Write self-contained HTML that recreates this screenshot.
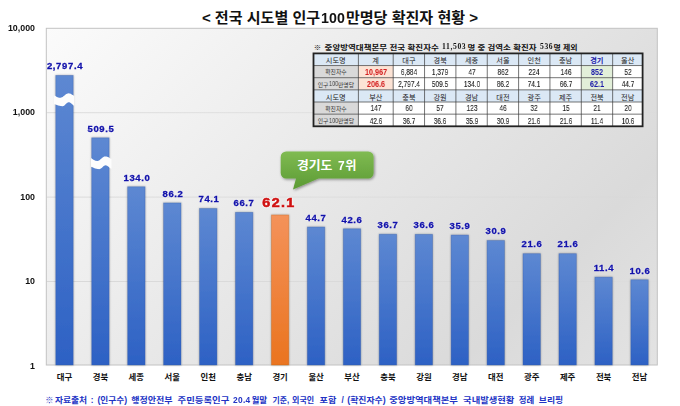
<!DOCTYPE html>
<html lang="ko"><head><meta charset="utf-8"><title>전국 시도별 인구100만명당 확진자 현황</title>
<style>
html,body{margin:0;padding:0;background:#fff}
#c{position:relative;width:680px;height:406px;overflow:hidden;background:#fff;font-family:"Liberation Sans",sans-serif}
#c svg{position:absolute;left:0;top:0}
.t{position:absolute;white-space:nowrap;height:12px;will-change:transform}
#c svg text{font-family:"Liberation Sans","Noto Sans CJK KR",sans-serif}
</style></head><body><div id="c">
<svg width="680" height="406" viewBox="0 0 680 406">
<defs>
<linearGradient id="pg" gradientUnits="userSpaceOnUse" x1="46" y1="28" x2="520" y2="502"><stop offset="0" stop-color="#fbfbfb"/><stop offset="0.79" stop-color="#dadada"/><stop offset="1" stop-color="#e3e3e3"/></linearGradient>
<linearGradient id="gl" gradientUnits="userSpaceOnUse" x1="46" y1="0" x2="657" y2="0"><stop offset="0" stop-color="#c4c4c4" stop-opacity="0.6"/><stop offset="0.5" stop-color="#c4c4c4" stop-opacity="0.3"/><stop offset="1" stop-color="#c4c4c4" stop-opacity="0.05"/></linearGradient>
<linearGradient id="bb" x1="0" y1="0" x2="0" y2="1"><stop offset="0" stop-color="#5d88d2"/><stop offset="1" stop-color="#2d61c4"/></linearGradient>
<linearGradient id="bo" x1="0" y1="0" x2="0" y2="1"><stop offset="0" stop-color="#f4925a"/><stop offset="1" stop-color="#ea741f"/></linearGradient>
<linearGradient id="cg" x1="0" y1="0" x2="0" y2="1"><stop offset="0" stop-color="#80bb52"/><stop offset="1" stop-color="#5b9a33"/></linearGradient>
<filter id="sh" x="-30%" y="-5%" width="160%" height="110%"><feGaussianBlur in="SourceAlpha" stdDeviation="0.9"/><feOffset dx="0.3" dy="0.3"/><feComponentTransfer><feFuncA type="linear" slope="0.35"/></feComponentTransfer><feMerge><feMergeNode/><feMergeNode in="SourceGraphic"/></feMerge></filter>
<filter id="sh2" x="-10%" y="-20%" width="120%" height="150%"><feGaussianBlur in="SourceAlpha" stdDeviation="1.4"/><feOffset dx="0.5" dy="1.2"/><feComponentTransfer><feFuncA type="linear" slope="0.45"/></feComponentTransfer><feMerge><feMergeNode/><feMergeNode in="SourceGraphic"/></feMerge></filter>
</defs>
<rect x="46.3" y="28.3" width="611" height="336.7" fill="url(#pg)" stroke="#c2c2c2" stroke-width="1"/>
<line x1="46.8" x2="656.8" y1="281.5" y2="281.5" stroke="url(#gl)" stroke-width="0.9"/>
<line x1="46.8" x2="656.8" y1="197.1" y2="197.1" stroke="url(#gl)" stroke-width="0.9"/>
<line x1="46.8" x2="656.8" y1="112.7" y2="112.7" stroke="url(#gl)" stroke-width="0.9"/>
<g filter="url(#sh)">
<rect x="55.77" y="75.39" width="17.4" height="289.61" fill="url(#bb)" stroke="#3558a0" stroke-width="0.8" stroke-opacity="0.4"/>
<rect x="91.71" y="137.82" width="17.4" height="227.18" fill="url(#bb)" stroke="#3558a0" stroke-width="0.8" stroke-opacity="0.4"/>
<rect x="127.65" y="186.77" width="17.4" height="178.23" fill="url(#bb)" stroke="#3558a0" stroke-width="0.8" stroke-opacity="0.4"/>
<rect x="163.59" y="202.94" width="17.4" height="162.06" fill="url(#bb)" stroke="#3558a0" stroke-width="0.8" stroke-opacity="0.4"/>
<rect x="199.54" y="208.49" width="17.4" height="156.51" fill="url(#bb)" stroke="#3558a0" stroke-width="0.8" stroke-opacity="0.4"/>
<rect x="235.48" y="212.34" width="17.4" height="152.66" fill="url(#bb)" stroke="#3558a0" stroke-width="0.8" stroke-opacity="0.4"/>
<rect x="271.42" y="214.96" width="17.4" height="150.04" fill="url(#bo)" stroke="#b8621f" stroke-width="0.8" stroke-opacity="0.4"/>
<rect x="307.36" y="227.01" width="17.4" height="137.99" fill="url(#bb)" stroke="#3558a0" stroke-width="0.8" stroke-opacity="0.4"/>
<rect x="343.3" y="228.78" width="17.4" height="136.22" fill="url(#bb)" stroke="#3558a0" stroke-width="0.8" stroke-opacity="0.4"/>
<rect x="379.24" y="234.24" width="17.4" height="130.76" fill="url(#bb)" stroke="#3558a0" stroke-width="0.8" stroke-opacity="0.4"/>
<rect x="415.18" y="234.34" width="17.4" height="130.66" fill="url(#bb)" stroke="#3558a0" stroke-width="0.8" stroke-opacity="0.4"/>
<rect x="451.12" y="235.05" width="17.4" height="129.95" fill="url(#bb)" stroke="#3558a0" stroke-width="0.8" stroke-opacity="0.4"/>
<rect x="487.06" y="240.55" width="17.4" height="124.45" fill="url(#bb)" stroke="#3558a0" stroke-width="0.8" stroke-opacity="0.4"/>
<rect x="523.01" y="253.67" width="17.4" height="111.33" fill="url(#bb)" stroke="#3558a0" stroke-width="0.8" stroke-opacity="0.4"/>
<rect x="558.95" y="253.67" width="17.4" height="111.33" fill="url(#bb)" stroke="#3558a0" stroke-width="0.8" stroke-opacity="0.4"/>
<rect x="594.89" y="277.1" width="17.4" height="87.9" fill="url(#bb)" stroke="#3558a0" stroke-width="0.8" stroke-opacity="0.4"/>
<rect x="630.83" y="279.76" width="17.4" height="85.24" fill="url(#bb)" stroke="#3558a0" stroke-width="0.8" stroke-opacity="0.4"/>
</g>
<path d="M54 95.26L54.72 95.69L55.45 96.12L56.17 96.52L56.89 96.89L57.62 97.2L58.34 97.45L59.06 97.63L59.79 97.73L60.51 97.74L61.23 97.6L61.96 97.31L62.68 96.88L63.4 96.35L64.12 95.76L64.85 95.16L65.57 94.58L66.29 94.08L67.02 93.69L67.74 93.44L68.46 93.35L69.19 93.4L69.91 93.57L70.63 93.84L71.36 94.2L72.08 94.63L72.8 95.1L73.53 95.6L74.25 96.1L74.25 105.87L73.53 105.42L72.8 104.83L72.08 104.15L71.36 103.48L70.63 102.88L69.91 102.43L69.19 102.19L68.46 102.18L67.74 102.43L67.02 102.93L66.29 103.59L65.57 104.33L64.85 105.04L64.12 105.64L63.4 106.02L62.68 106.15L61.96 106.13L61.23 106.07L60.51 105.97L59.79 105.84L59.06 105.68L58.34 105.49L57.62 105.27L56.89 105.03L56.17 104.77L55.45 104.5L54.72 104.23L54 103.95Z" fill="#fdfdfd"/>
<path d="M90.95 158.03L91.68 158.53L92.42 159.03L93.15 159.51L93.89 159.96L94.62 160.35L95.35 160.66L96.09 160.87L96.82 160.98L97.56 160.98L98.29 160.79L99.02 160.43L99.76 159.93L100.49 159.32L101.22 158.65L101.96 157.99L102.69 157.4L103.43 156.91L104.16 156.57L104.89 156.41L105.63 156.42L106.36 156.53L107.1 156.73L107.83 157.01L108.56 157.35L109.3 157.75L110.03 158.19L110.77 158.65L111.5 159.11L111.5 168.88L110.77 168.51L110.03 168.02L109.3 167.45L108.56 166.86L107.83 166.31L107.1 165.85L106.36 165.53L105.63 165.36L104.89 165.4L104.16 165.7L103.43 166.23L102.69 166.91L101.96 167.64L101.22 168.32L100.49 168.83L99.76 169.11L99.02 169.14L98.29 169.1L97.56 169L96.82 168.85L96.09 168.67L95.35 168.45L94.62 168.19L93.89 167.91L93.15 167.61L92.42 167.31L91.68 167L90.95 166.7Z" fill="#fdfdfd"/>
<g font-size="8.4" font-weight="bold" fill="#111" text-anchor="middle">
<text x="64.5" y="380.3">대구</text>
<text x="100.4" y="380.3">경북</text>
<text x="136.3" y="380.3">세종</text>
<text x="172.3" y="380.3">서울</text>
<text x="208.2" y="380.3">인천</text>
<text x="244.2" y="380.3">충남</text>
<text x="280.1" y="380.3">경기</text>
<text x="316.1" y="380.3">울산</text>
<text x="352" y="380.3">부산</text>
<text x="387.9" y="380.3">충북</text>
<text x="423.9" y="380.3">강원</text>
<text x="459.8" y="380.3">경남</text>
<text x="495.8" y="380.3">대전</text>
<text x="531.7" y="380.3">광주</text>
<text x="567.6" y="380.3">제주</text>
<text x="603.6" y="380.3">전북</text>
<text x="639.5" y="380.3">전남</text>
</g>
<text x="201.9" y="22.9" font-size="15" font-weight="bold" fill="#111" textLength="118.3" lengthAdjust="spacingAndGlyphs">&lt; 전국 시도별 인구</text>
<text x="345.9" y="22.9" font-size="15" font-weight="bold" fill="#111" textLength="132.2" lengthAdjust="spacingAndGlyphs">만명당 확진자 현황 &gt;</text>
<rect x="313.5" y="53.4" width="329.1" height="72.9" fill="#fff"/>
<rect x="313.5" y="53.4" width="329.1" height="12.15" fill="#dbe8f5"/>
<rect x="313.5" y="65.55" width="44.9" height="12.15" fill="#d9d9d9"/>
<rect x="358.4" y="65.55" width="34.8" height="12.15" fill="#fce3d5"/>
<rect x="581.3" y="65.55" width="31.35" height="12.15" fill="#e2efd9"/>
<rect x="313.5" y="77.7" width="44.9" height="12.15" fill="#d9d9d9"/>
<rect x="358.4" y="77.7" width="34.8" height="12.15" fill="#fce3d5"/>
<rect x="581.3" y="77.7" width="31.35" height="12.15" fill="#e2efd9"/>
<rect x="313.5" y="89.85" width="329.1" height="12.15" fill="#dbe8f5"/>
<rect x="313.5" y="102" width="44.9" height="12.15" fill="#d9d9d9"/>
<rect x="313.5" y="114.15" width="44.9" height="12.15" fill="#d9d9d9"/>
<path d="M313.5 65.55H642.6M313.5 77.7H642.6M313.5 89.85H642.6M313.5 102H642.6M313.5 114.15H642.6M358.4 53.4V126.3M393.2 53.4V126.3M424.55 53.4V126.3M455.9 53.4V126.3M487.25 53.4V126.3M518.6 53.4V126.3M549.95 53.4V126.3M581.3 53.4V126.3M612.65 53.4V126.3" stroke="#3a3a3a" stroke-width="0.7" fill="none"/>
<rect x="313.5" y="53.4" width="329.1" height="72.9" fill="none" stroke="#222" stroke-width="1.8"/>
<g font-size="7.2" fill="#222" text-anchor="middle">
<text x="335.7" y="63.2">시도명</text>
<text x="375.6" y="63.2">계</text>
<text x="408.9" y="63.2">대구</text>
<text x="440.2" y="63.2">경북</text>
<text x="471.5" y="63.2">세종</text>
<text x="502.9" y="63.2">서울</text>
<text x="534.2" y="63.2">인천</text>
<text x="565.6" y="63.2">충남</text>
<text x="596.8" y="63.2" font-weight="bold" fill="#1a1aa8">경기</text>
<text x="627.7" y="63.2">울산</text>
<text x="335.7" y="99.7">시도명</text>
<text x="375.8" y="99.7">부산</text>
<text x="408.9" y="99.7">충북</text>
<text x="440.1" y="99.7">강원</text>
<text x="471.6" y="99.7">경남</text>
<text x="502.9" y="99.7">대전</text>
<text x="534.2" y="99.7">광주</text>
<text x="565.6" y="99.7">제주</text>
<text x="597" y="99.7">전북</text>
<text x="627.7" y="99.7">전남</text>
</g>
<g font-size="5.8" fill="#333">
<text x="335.9" y="74.4" text-anchor="middle">확진자수</text>
<text x="317.7" y="86.7">인구</text>
<text x="338" y="86.7">만명당</text>
<text x="335.9" y="110.9" text-anchor="middle">확진자수</text>
<text x="317.7" y="123.1">인구</text>
<text x="338" y="123.1">만명당</text>
</g>
<g font-size="7.4" font-weight="bold" fill="#111">
<text x="313.8" y="49.6">※</text>
<text x="324.6" y="49.6" textLength="114.2" lengthAdjust="spacingAndGlyphs">중앙방역대책본부 전국 확진자수</text>
<text x="467.4" y="49.6" textLength="69.1" lengthAdjust="spacingAndGlyphs">명 중 검역소 확진자</text>
<text x="553.6" y="49.6" textLength="24" lengthAdjust="spacingAndGlyphs">명 제외</text>
</g>
<path d="M286.2 151.4H368.1A5.5 5.5 0 0 1 373.6 156.9V173A5.5 5.5 0 0 1 368.1 178.5H318.5L293 189.6L296 178.5H286.2A5.5 5.5 0 0 1 280.7 173V156.9A5.5 5.5 0 0 1 286.2 151.4Z" fill="url(#cg)" filter="url(#sh2)"/>
<text x="296.9" y="170.1" font-size="12.2" font-weight="bold" fill="#fff" textLength="35.5" lengthAdjust="spacingAndGlyphs">경기도</text>
<text x="345.2" y="170.1" font-size="12.2" font-weight="bold" fill="#fff">위</text>
<g font-size="8.2" font-weight="bold" fill="#2233c4">
<text x="45.3" y="403.4">※</text>
<text x="54.9" y="403.4" textLength="32.3" lengthAdjust="spacingAndGlyphs">자료출처</text>
<text x="90.8" y="403.4">:</text>
<text x="97.4" y="403.4" textLength="29.7" lengthAdjust="spacingAndGlyphs">(인구수)</text>
<text x="131.3" y="403.4" textLength="41.3" lengthAdjust="spacingAndGlyphs">행정안전부</text>
<text x="177.6" y="403.4" textLength="51.7" lengthAdjust="spacingAndGlyphs">주민등록인구</text>
<text x="251.4" y="403.4" textLength="15.8" lengthAdjust="spacingAndGlyphs">월말</text>
<text x="272.6" y="403.4" textLength="16.7" lengthAdjust="spacingAndGlyphs">기준,</text>
<text x="292.1" y="403.4" textLength="22.1" lengthAdjust="spacingAndGlyphs">외국인</text>
<text x="319.6" y="403.4" textLength="16.8" lengthAdjust="spacingAndGlyphs">포함</text>
<text x="341.4" y="403.4">/</text>
<text x="347.2" y="403.4" textLength="38.4" lengthAdjust="spacingAndGlyphs">(확진자수)</text>
<text x="389.3" y="403.4" textLength="68.6" lengthAdjust="spacingAndGlyphs">중앙방역대책본부</text>
<text x="463.1" y="403.4" textLength="51.3" lengthAdjust="spacingAndGlyphs">국내발생현황</text>
<text x="518.8" y="403.4" textLength="15.4" lengthAdjust="spacingAndGlyphs">정례</text>
<text x="538.8" y="403.4" textLength="24.3" lengthAdjust="spacingAndGlyphs">브리핑</text>
</g>
</svg>
<div class="t" style="left:-45px;top:360.56px;width:80px;text-align:right;font:bold 8.2px/12px 'Liberation Sans',sans-serif;color:#111;transform:scaleX(1.08);transform-origin:right center;">1</div>
<div class="t" style="left:-45px;top:276.16px;width:80px;text-align:right;font:bold 8.2px/12px 'Liberation Sans',sans-serif;color:#111;transform:scaleX(1.08);transform-origin:right center;">10</div>
<div class="t" style="left:-45px;top:191.76px;width:80px;text-align:right;font:bold 8.2px/12px 'Liberation Sans',sans-serif;color:#111;transform:scaleX(1.08);transform-origin:right center;">100</div>
<div class="t" style="left:-45px;top:107.36px;width:80px;text-align:right;font:bold 8.2px/12px 'Liberation Sans',sans-serif;color:#111;transform:scaleX(1.08);transform-origin:right center;">1,000</div>
<div class="t" style="left:-45px;top:22.96px;width:80px;text-align:right;font:bold 8.2px/12px 'Liberation Sans',sans-serif;color:#111;transform:scaleX(1.08);transform-origin:right center;">10,000</div>
<div class="t" style="left:24.77px;top:60.14px;width:80px;text-align:center;font:bold 8.8px/12px 'Liberation Sans',sans-serif;color:#1212aa;transform:scaleX(1.08);transform-origin:center center;letter-spacing:0.6px;-webkit-text-stroke:0.3px #1212aa;text-shadow:0 0 1px #fff,0 0 1.5px #fff;">2,797.4</div>
<div class="t" style="left:60.71px;top:122.57px;width:80px;text-align:center;font:bold 8.8px/12px 'Liberation Sans',sans-serif;color:#1212aa;transform:scaleX(1.08);transform-origin:center center;letter-spacing:0.6px;-webkit-text-stroke:0.3px #1212aa;text-shadow:0 0 1px #fff,0 0 1.5px #fff;">509.5</div>
<div class="t" style="left:96.65px;top:171.52px;width:80px;text-align:center;font:bold 8.8px/12px 'Liberation Sans',sans-serif;color:#1212aa;transform:scaleX(1.08);transform-origin:center center;letter-spacing:0.6px;-webkit-text-stroke:0.3px #1212aa;text-shadow:0 0 1px #fff,0 0 1.5px #fff;">134.0</div>
<div class="t" style="left:132.59px;top:187.69px;width:80px;text-align:center;font:bold 8.8px/12px 'Liberation Sans',sans-serif;color:#1212aa;transform:scaleX(1.08);transform-origin:center center;letter-spacing:0.6px;-webkit-text-stroke:0.3px #1212aa;text-shadow:0 0 1px #fff,0 0 1.5px #fff;">86.2</div>
<div class="t" style="left:168.54px;top:193.24px;width:80px;text-align:center;font:bold 8.8px/12px 'Liberation Sans',sans-serif;color:#1212aa;transform:scaleX(1.08);transform-origin:center center;letter-spacing:0.6px;-webkit-text-stroke:0.3px #1212aa;text-shadow:0 0 1px #fff,0 0 1.5px #fff;">74.1</div>
<div class="t" style="left:204.48px;top:197.09px;width:80px;text-align:center;font:bold 8.8px/12px 'Liberation Sans',sans-serif;color:#1212aa;transform:scaleX(1.08);transform-origin:center center;letter-spacing:0.6px;-webkit-text-stroke:0.3px #1212aa;text-shadow:0 0 1px #fff,0 0 1.5px #fff;">66.7</div>
<div class="t" style="left:238.52px;top:196.93px;width:80px;text-align:center;font:bold 12.8px/12px 'Liberation Sans',sans-serif;color:#cf1010;transform:scaleX(1.12);transform-origin:center center;letter-spacing:1.2px;-webkit-text-stroke:0.55px #cf1010;text-shadow:0 0 1.2px #fff,0 0 1.2px #fff,0 0 2px #fff,0 0 2px #fff;">62.1</div>
<div class="t" style="left:276.36px;top:211.76px;width:80px;text-align:center;font:bold 8.8px/12px 'Liberation Sans',sans-serif;color:#1212aa;transform:scaleX(1.08);transform-origin:center center;letter-spacing:0.6px;-webkit-text-stroke:0.3px #1212aa;text-shadow:0 0 1px #fff,0 0 1.5px #fff;">44.7</div>
<div class="t" style="left:312.3px;top:213.53px;width:80px;text-align:center;font:bold 8.8px/12px 'Liberation Sans',sans-serif;color:#1212aa;transform:scaleX(1.08);transform-origin:center center;letter-spacing:0.6px;-webkit-text-stroke:0.3px #1212aa;text-shadow:0 0 1px #fff,0 0 1.5px #fff;">42.6</div>
<div class="t" style="left:348.24px;top:218.99px;width:80px;text-align:center;font:bold 8.8px/12px 'Liberation Sans',sans-serif;color:#1212aa;transform:scaleX(1.08);transform-origin:center center;letter-spacing:0.6px;-webkit-text-stroke:0.3px #1212aa;text-shadow:0 0 1px #fff,0 0 1.5px #fff;">36.7</div>
<div class="t" style="left:384.18px;top:219.09px;width:80px;text-align:center;font:bold 8.8px/12px 'Liberation Sans',sans-serif;color:#1212aa;transform:scaleX(1.08);transform-origin:center center;letter-spacing:0.6px;-webkit-text-stroke:0.3px #1212aa;text-shadow:0 0 1px #fff,0 0 1.5px #fff;">36.6</div>
<div class="t" style="left:420.12px;top:219.8px;width:80px;text-align:center;font:bold 8.8px/12px 'Liberation Sans',sans-serif;color:#1212aa;transform:scaleX(1.08);transform-origin:center center;letter-spacing:0.6px;-webkit-text-stroke:0.3px #1212aa;text-shadow:0 0 1px #fff,0 0 1.5px #fff;">35.9</div>
<div class="t" style="left:456.06px;top:225.3px;width:80px;text-align:center;font:bold 8.8px/12px 'Liberation Sans',sans-serif;color:#1212aa;transform:scaleX(1.08);transform-origin:center center;letter-spacing:0.6px;-webkit-text-stroke:0.3px #1212aa;text-shadow:0 0 1px #fff,0 0 1.5px #fff;">30.9</div>
<div class="t" style="left:492.01px;top:238.42px;width:80px;text-align:center;font:bold 8.8px/12px 'Liberation Sans',sans-serif;color:#1212aa;transform:scaleX(1.08);transform-origin:center center;letter-spacing:0.6px;-webkit-text-stroke:0.3px #1212aa;text-shadow:0 0 1px #fff,0 0 1.5px #fff;">21.6</div>
<div class="t" style="left:527.95px;top:238.42px;width:80px;text-align:center;font:bold 8.8px/12px 'Liberation Sans',sans-serif;color:#1212aa;transform:scaleX(1.08);transform-origin:center center;letter-spacing:0.6px;-webkit-text-stroke:0.3px #1212aa;text-shadow:0 0 1px #fff,0 0 1.5px #fff;">21.6</div>
<div class="t" style="left:563.89px;top:261.85px;width:80px;text-align:center;font:bold 8.8px/12px 'Liberation Sans',sans-serif;color:#1212aa;transform:scaleX(1.08);transform-origin:center center;letter-spacing:0.6px;-webkit-text-stroke:0.3px #1212aa;text-shadow:0 0 1px #fff,0 0 1.5px #fff;">11.4</div>
<div class="t" style="left:599.83px;top:264.51px;width:80px;text-align:center;font:bold 8.8px/12px 'Liberation Sans',sans-serif;color:#1212aa;transform:scaleX(1.08);transform-origin:center center;letter-spacing:0.6px;-webkit-text-stroke:0.3px #1212aa;text-shadow:0 0 1px #fff,0 0 1.5px #fff;">10.6</div>
<div class="t" style="left:320.91px;top:12.08px;width:53.94px;text-align:left;font:bold 14.2px/12px 'Liberation Sans',sans-serif;color:#111;letter-spacing:0.08px;">100</div>
<div class="t" style="left:345.8px;top:66.06px;width:60px;text-align:center;font:bold 9.5px/12px 'Liberation Sans',sans-serif;color:#d42020;transform:scaleX(0.76);transform-origin:center center;">10,967</div>
<div class="t" style="left:378.88px;top:66.02px;width:60px;text-align:center;font:normal 9.6px/12px 'Liberation Sans',sans-serif;color:#1a1a1a;transform:scaleX(0.68);transform-origin:center center;-webkit-text-stroke:0.12px #1a1a1a;">6,884</div>
<div class="t" style="left:410.23px;top:66.02px;width:60px;text-align:center;font:normal 9.6px/12px 'Liberation Sans',sans-serif;color:#1a1a1a;transform:scaleX(0.68);transform-origin:center center;-webkit-text-stroke:0.12px #1a1a1a;">1,379</div>
<div class="t" style="left:441.57px;top:66.02px;width:60px;text-align:center;font:normal 9.6px/12px 'Liberation Sans',sans-serif;color:#1a1a1a;transform:scaleX(0.68);transform-origin:center center;-webkit-text-stroke:0.12px #1a1a1a;">47</div>
<div class="t" style="left:472.93px;top:66.02px;width:60px;text-align:center;font:normal 9.6px/12px 'Liberation Sans',sans-serif;color:#1a1a1a;transform:scaleX(0.68);transform-origin:center center;-webkit-text-stroke:0.12px #1a1a1a;">862</div>
<div class="t" style="left:504.28px;top:66.02px;width:60px;text-align:center;font:normal 9.6px/12px 'Liberation Sans',sans-serif;color:#1a1a1a;transform:scaleX(0.68);transform-origin:center center;-webkit-text-stroke:0.12px #1a1a1a;">224</div>
<div class="t" style="left:535.62px;top:66.02px;width:60px;text-align:center;font:normal 9.6px/12px 'Liberation Sans',sans-serif;color:#1a1a1a;transform:scaleX(0.68);transform-origin:center center;-webkit-text-stroke:0.12px #1a1a1a;">146</div>
<div class="t" style="left:566.97px;top:66.06px;width:60px;text-align:center;font:bold 9.5px/12px 'Liberation Sans',sans-serif;color:#1a1aa8;transform:scaleX(0.76);transform-origin:center center;">852</div>
<div class="t" style="left:597.62px;top:66.02px;width:60px;text-align:center;font:normal 9.6px/12px 'Liberation Sans',sans-serif;color:#1a1a1a;transform:scaleX(0.68);transform-origin:center center;-webkit-text-stroke:0.12px #1a1a1a;">52</div>
<div class="t" style="left:328.62px;top:78.07px;width:40px;text-align:left;font:normal 7.6px/12px 'Liberation Sans',sans-serif;color:#333;transform:scaleX(0.72);transform-origin:left center;">100</div>
<div class="t" style="left:345.8px;top:78.21px;width:60px;text-align:center;font:bold 9.5px/12px 'Liberation Sans',sans-serif;color:#d42020;transform:scaleX(0.76);transform-origin:center center;">206.6</div>
<div class="t" style="left:378.88px;top:78.17px;width:60px;text-align:center;font:normal 9.6px/12px 'Liberation Sans',sans-serif;color:#1a1a1a;transform:scaleX(0.68);transform-origin:center center;-webkit-text-stroke:0.12px #1a1a1a;">2,797.4</div>
<div class="t" style="left:410.23px;top:78.17px;width:60px;text-align:center;font:normal 9.6px/12px 'Liberation Sans',sans-serif;color:#1a1a1a;transform:scaleX(0.68);transform-origin:center center;-webkit-text-stroke:0.12px #1a1a1a;">509.5</div>
<div class="t" style="left:441.57px;top:78.17px;width:60px;text-align:center;font:normal 9.6px/12px 'Liberation Sans',sans-serif;color:#1a1a1a;transform:scaleX(0.68);transform-origin:center center;-webkit-text-stroke:0.12px #1a1a1a;">134.0</div>
<div class="t" style="left:472.93px;top:78.17px;width:60px;text-align:center;font:normal 9.6px/12px 'Liberation Sans',sans-serif;color:#1a1a1a;transform:scaleX(0.68);transform-origin:center center;-webkit-text-stroke:0.12px #1a1a1a;">86.2</div>
<div class="t" style="left:504.28px;top:78.17px;width:60px;text-align:center;font:normal 9.6px/12px 'Liberation Sans',sans-serif;color:#1a1a1a;transform:scaleX(0.68);transform-origin:center center;-webkit-text-stroke:0.12px #1a1a1a;">74.1</div>
<div class="t" style="left:535.62px;top:78.17px;width:60px;text-align:center;font:normal 9.6px/12px 'Liberation Sans',sans-serif;color:#1a1a1a;transform:scaleX(0.68);transform-origin:center center;-webkit-text-stroke:0.12px #1a1a1a;">66.7</div>
<div class="t" style="left:566.97px;top:78.21px;width:60px;text-align:center;font:bold 9.5px/12px 'Liberation Sans',sans-serif;color:#1a1aa8;transform:scaleX(0.76);transform-origin:center center;">62.1</div>
<div class="t" style="left:597.62px;top:78.17px;width:60px;text-align:center;font:normal 9.6px/12px 'Liberation Sans',sans-serif;color:#1a1a1a;transform:scaleX(0.68);transform-origin:center center;-webkit-text-stroke:0.12px #1a1a1a;">44.7</div>
<div class="t" style="left:345.8px;top:102.47px;width:60px;text-align:center;font:normal 9.6px/12px 'Liberation Sans',sans-serif;color:#1a1a1a;transform:scaleX(0.68);transform-origin:center center;-webkit-text-stroke:0.12px #1a1a1a;">147</div>
<div class="t" style="left:378.88px;top:102.47px;width:60px;text-align:center;font:normal 9.6px/12px 'Liberation Sans',sans-serif;color:#1a1a1a;transform:scaleX(0.68);transform-origin:center center;-webkit-text-stroke:0.12px #1a1a1a;">60</div>
<div class="t" style="left:410.23px;top:102.47px;width:60px;text-align:center;font:normal 9.6px/12px 'Liberation Sans',sans-serif;color:#1a1a1a;transform:scaleX(0.68);transform-origin:center center;-webkit-text-stroke:0.12px #1a1a1a;">57</div>
<div class="t" style="left:441.57px;top:102.47px;width:60px;text-align:center;font:normal 9.6px/12px 'Liberation Sans',sans-serif;color:#1a1a1a;transform:scaleX(0.68);transform-origin:center center;-webkit-text-stroke:0.12px #1a1a1a;">123</div>
<div class="t" style="left:472.93px;top:102.47px;width:60px;text-align:center;font:normal 9.6px/12px 'Liberation Sans',sans-serif;color:#1a1a1a;transform:scaleX(0.68);transform-origin:center center;-webkit-text-stroke:0.12px #1a1a1a;">46</div>
<div class="t" style="left:504.28px;top:102.47px;width:60px;text-align:center;font:normal 9.6px/12px 'Liberation Sans',sans-serif;color:#1a1a1a;transform:scaleX(0.68);transform-origin:center center;-webkit-text-stroke:0.12px #1a1a1a;">32</div>
<div class="t" style="left:535.62px;top:102.47px;width:60px;text-align:center;font:normal 9.6px/12px 'Liberation Sans',sans-serif;color:#1a1a1a;transform:scaleX(0.68);transform-origin:center center;-webkit-text-stroke:0.12px #1a1a1a;">15</div>
<div class="t" style="left:566.97px;top:102.47px;width:60px;text-align:center;font:normal 9.6px/12px 'Liberation Sans',sans-serif;color:#1a1a1a;transform:scaleX(0.68);transform-origin:center center;-webkit-text-stroke:0.12px #1a1a1a;">21</div>
<div class="t" style="left:597.62px;top:102.47px;width:60px;text-align:center;font:normal 9.6px/12px 'Liberation Sans',sans-serif;color:#1a1a1a;transform:scaleX(0.68);transform-origin:center center;-webkit-text-stroke:0.12px #1a1a1a;">20</div>
<div class="t" style="left:328.62px;top:114.52px;width:40px;text-align:left;font:normal 7.6px/12px 'Liberation Sans',sans-serif;color:#333;transform:scaleX(0.72);transform-origin:left center;">100</div>
<div class="t" style="left:345.8px;top:114.62px;width:60px;text-align:center;font:normal 9.6px/12px 'Liberation Sans',sans-serif;color:#1a1a1a;transform:scaleX(0.68);transform-origin:center center;-webkit-text-stroke:0.12px #1a1a1a;">42.6</div>
<div class="t" style="left:378.88px;top:114.62px;width:60px;text-align:center;font:normal 9.6px/12px 'Liberation Sans',sans-serif;color:#1a1a1a;transform:scaleX(0.68);transform-origin:center center;-webkit-text-stroke:0.12px #1a1a1a;">36.7</div>
<div class="t" style="left:410.23px;top:114.62px;width:60px;text-align:center;font:normal 9.6px/12px 'Liberation Sans',sans-serif;color:#1a1a1a;transform:scaleX(0.68);transform-origin:center center;-webkit-text-stroke:0.12px #1a1a1a;">36.6</div>
<div class="t" style="left:441.57px;top:114.62px;width:60px;text-align:center;font:normal 9.6px/12px 'Liberation Sans',sans-serif;color:#1a1a1a;transform:scaleX(0.68);transform-origin:center center;-webkit-text-stroke:0.12px #1a1a1a;">35.9</div>
<div class="t" style="left:472.93px;top:114.62px;width:60px;text-align:center;font:normal 9.6px/12px 'Liberation Sans',sans-serif;color:#1a1a1a;transform:scaleX(0.68);transform-origin:center center;-webkit-text-stroke:0.12px #1a1a1a;">30.9</div>
<div class="t" style="left:504.28px;top:114.62px;width:60px;text-align:center;font:normal 9.6px/12px 'Liberation Sans',sans-serif;color:#1a1a1a;transform:scaleX(0.68);transform-origin:center center;-webkit-text-stroke:0.12px #1a1a1a;">21.6</div>
<div class="t" style="left:535.62px;top:114.62px;width:60px;text-align:center;font:normal 9.6px/12px 'Liberation Sans',sans-serif;color:#1a1a1a;transform:scaleX(0.68);transform-origin:center center;-webkit-text-stroke:0.12px #1a1a1a;">21.6</div>
<div class="t" style="left:566.97px;top:114.62px;width:60px;text-align:center;font:normal 9.6px/12px 'Liberation Sans',sans-serif;color:#1a1a1a;transform:scaleX(0.68);transform-origin:center center;-webkit-text-stroke:0.12px #1a1a1a;">11.4</div>
<div class="t" style="left:597.62px;top:114.62px;width:60px;text-align:center;font:normal 9.6px/12px 'Liberation Sans',sans-serif;color:#1a1a1a;transform:scaleX(0.68);transform-origin:center center;-webkit-text-stroke:0.12px #1a1a1a;">10.6</div>
<div class="t" style="left:442.14px;top:40.94px;width:54.68px;text-align:left;font:bold 7.6px/12px 'Liberation Serif',sans-serif;color:#111;letter-spacing:0.63px;">11,503</div>
<div class="t" style="left:539.69px;top:40.94px;width:43.29px;text-align:left;font:bold 7.6px/12px 'Liberation Serif',sans-serif;color:#111;letter-spacing:0.63px;">536</div>
<div class="t" style="left:337.62px;top:159.84px;width:40px;text-align:left;font:bold 12px/12px 'Liberation Sans',sans-serif;color:#fff;letter-spacing:0.93px;">7</div>
<div class="t" style="left:233.45px;top:394.49px;width:47.64px;text-align:left;font:bold 8.4px/12px 'Liberation Sans',sans-serif;color:#2233c4;letter-spacing:0.32px;">20.4</div>
</div></body></html>
